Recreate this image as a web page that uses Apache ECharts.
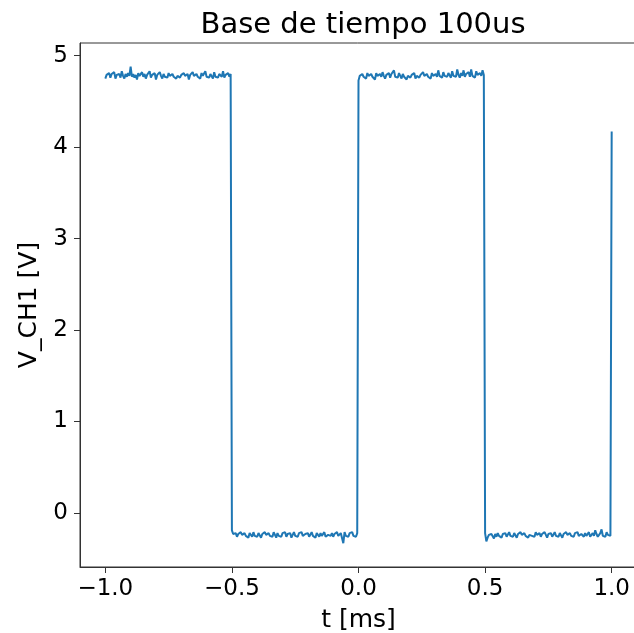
<!DOCTYPE html>
<html>
<head>
<meta charset="utf-8">
<script src="https://cdn.jsdelivr.net/npm/echarts@6/dist/echarts.min.js"></script>
<style>
html,body{margin:0;padding:0;background:#fff;}
#chart{width:634px;height:633px;}
</style>
</head>
<body>
<div id="chart"></div>
<script>
// Sample step (ms) and segment start times
const dt = 0.005;
const segStarts = [-1.0, -0.5, 0.0, 0.5];
// Segment values (V), 101 samples each
const highA = [4.75,4.79,4.77,4.81,4.76,4.80,4.78,4.82,4.75,4.79,
4.77,4.80,4.76,4.83,4.78,4.75,4.80,4.77,4.81,4.78,
4.88,4.77,4.80,4.76,4.79,4.74,4.81,4.78,4.76,4.82,
4.77,4.80,4.75,4.79,4.78,4.83,4.76,4.79,4.77,4.81,
4.74,4.79,4.77,4.82,4.78,4.75,4.80,4.77,4.79,4.76,
4.81,4.78,4.76,4.80,4.77,4.79,4.75,4.78,4.80,4.76,
4.79,4.77,4.81,4.78,4.76,4.80,4.74,4.79,4.77,4.82,
4.78,4.76,4.80,4.77,4.79,4.75,4.81,4.78,4.76,4.83,
4.77,4.79,4.76,4.80,4.78,4.75,4.82,4.77,4.79,4.76,
4.80,4.78,4.77,4.83,4.76,4.79,4.78,4.81,4.77,4.80,
4.79];
const lowA = [-0.19,-0.23,-0.25,-0.22,-0.26,-0.23,-0.25,-0.21,-0.24,-0.26,
-0.22,-0.25,-0.23,-0.27,-0.22,-0.24,-0.26,-0.21,-0.25,-0.23,
-0.26,-0.22,-0.24,-0.27,-0.23,-0.25,-0.21,-0.24,-0.26,-0.22,
-0.25,-0.23,-0.26,-0.21,-0.24,-0.27,-0.22,-0.25,-0.23,-0.26,
-0.22,-0.24,-0.21,-0.26,-0.23,-0.25,-0.22,-0.27,-0.24,-0.21,
-0.25,-0.23,-0.26,-0.22,-0.24,-0.21,-0.25,-0.27,-0.23,-0.25,
-0.22,-0.26,-0.24,-0.21,-0.25,-0.23,-0.27,-0.22,-0.24,-0.26,
-0.22,-0.25,-0.23,-0.21,-0.26,-0.24,-0.24,-0.23,-0.25,-0.22,
-0.26,-0.23,-0.24,-0.21,-0.25,-0.27,-0.22,-0.24,-0.33,-0.21,
-0.25,-0.23,-0.26,-0.22,-0.24,-0.21,-0.25,-0.23,-0.26,-0.22,
-0.24];
const highB = [4.73,4.78,4.76,4.80,4.77,4.79,4.75,4.81,4.78,4.76,
4.80,4.77,4.79,4.74,4.81,4.78,4.76,4.80,4.77,4.82,
4.78,4.75,4.79,4.77,4.81,4.76,4.80,4.78,4.84,4.77,
4.79,4.76,4.81,4.78,4.75,4.80,4.77,4.79,4.74,4.78,
4.80,4.76,4.79,4.77,4.81,4.75,4.78,4.80,4.76,4.79,
4.77,4.82,4.78,4.76,4.80,4.77,4.79,4.75,4.81,4.78,
4.76,4.80,4.77,4.84,4.78,4.79,4.76,4.82,4.78,4.80,
4.77,4.81,4.79,4.76,4.83,4.78,4.80,4.77,4.85,4.79,
4.76,4.81,4.78,4.84,4.77,4.80,4.79,4.82,4.77,4.85,
4.78,4.80,4.76,4.83,4.79,4.77,4.81,4.78,4.84,4.79,
4.80];
const lowB = [-0.22,-0.31,-0.27,-0.24,-0.26,-0.23,-0.25,-0.28,-0.23,-0.26,
-0.22,-0.25,-0.24,-0.27,-0.23,-0.25,-0.22,-0.26,-0.24,-0.21,
-0.25,-0.23,-0.26,-0.22,-0.24,-0.27,-0.23,-0.25,-0.21,-0.24,
-0.26,-0.22,-0.25,-0.23,-0.27,-0.24,-0.22,-0.25,-0.23,-0.26,
-0.21,-0.24,-0.25,-0.22,-0.26,-0.23,-0.25,-0.21,-0.24,-0.27,
-0.23,-0.25,-0.22,-0.26,-0.24,-0.21,-0.25,-0.23,-0.26,-0.22,
-0.24,-0.27,-0.23,-0.25,-0.21,-0.24,-0.26,-0.22,-0.25,-0.23,
-0.26,-0.22,-0.24,-0.21,-0.25,-0.27,-0.23,-0.24,-0.26,-0.22,
-0.25,-0.23,-0.21,-0.26,-0.24,-0.22,-0.25,-0.19,-0.23,-0.26,
-0.24,-0.22,-0.18,-0.25,-0.23,-0.26,-0.21,-0.24,-0.22,-0.25,
-0.23];
const finalPoint = [1.0, 4.17];
const xTicks = [-1.0, -0.5, 0.0, 0.5, 1.0];
const yTicks = [0, 1, 2, 3, 4, 5];

const segments = [highA, lowA, highB, lowB];
const data = [];
segments.forEach((seg, k) => {
  seg.forEach((v, i) => {
    data.push([+(segStarts[k] + i * dt).toFixed(4), v]);
  });
});
data.push(finalPoint);

const font = 'DejaVu Sans';
const chart = echarts.init(document.getElementById('chart'), null, {renderer: 'canvas'});
chart.setOption({
  animation: false,
  backgroundColor: '#fff',
  title: {
    text: 'Base de tiempo 100us',
    left: 358, top: 6, textAlign: 'center',
    textStyle: {fontFamily: font, fontSize: 29, fontWeight: 'normal', color: '#000'}
  },
  grid: {
    left: 80, right: -3, top: 43, bottom: 66,
    outerBoundsMode: 'none', containLabel: false,
    show: true, borderColor: '#333', borderWidth: 1, backgroundColor: 'transparent'
  },
  xAxis: {
    type: 'value', min: -1.1, max: 1.1,
    name: 't [ms]', nameLocation: 'middle', nameGap: 41,
    nameTextStyle: {fontFamily: font, fontSize: 25, color: '#000'},
    axisLine: {show: true, onZero: false, lineStyle: {color: '#333', width: 1}},
    axisTick: {show: true, length: 6, customValues: xTicks, lineStyle: {color: '#333'}},
    axisLabel: {
      customValues: xTicks, margin: 11, fontFamily: font, fontSize: 23, color: '#000',
      formatter: v => (v < 0 ? '\u2212' : '') + Math.abs(v).toFixed(1)
    },
    splitLine: {show: false}
  },
  yAxis: {
    type: 'value', min: -0.591, max: 5.139,
    name: 'V_CH1 [V]', nameLocation: 'middle', nameGap: 36,
    nameTextStyle: {fontFamily: font, fontSize: 25, color: '#000'},
    axisLine: {show: true, onZero: false, lineStyle: {color: '#333', width: 1}},
    axisTick: {show: true, length: 6, customValues: yTicks, lineStyle: {color: '#333'}},
    axisLabel: {
      customValues: yTicks, margin: 12, fontFamily: font, fontSize: 23, color: '#000',
      formatter: v => String(v)
    },
    splitLine: {show: false}
  },
  series: [{
    type: 'line', data: data, showSymbol: false, symbol: 'none',
    lineStyle: {color: '#1f77b4', width: 2}, clip: true
  }]
});
</script>
</body>
</html>
